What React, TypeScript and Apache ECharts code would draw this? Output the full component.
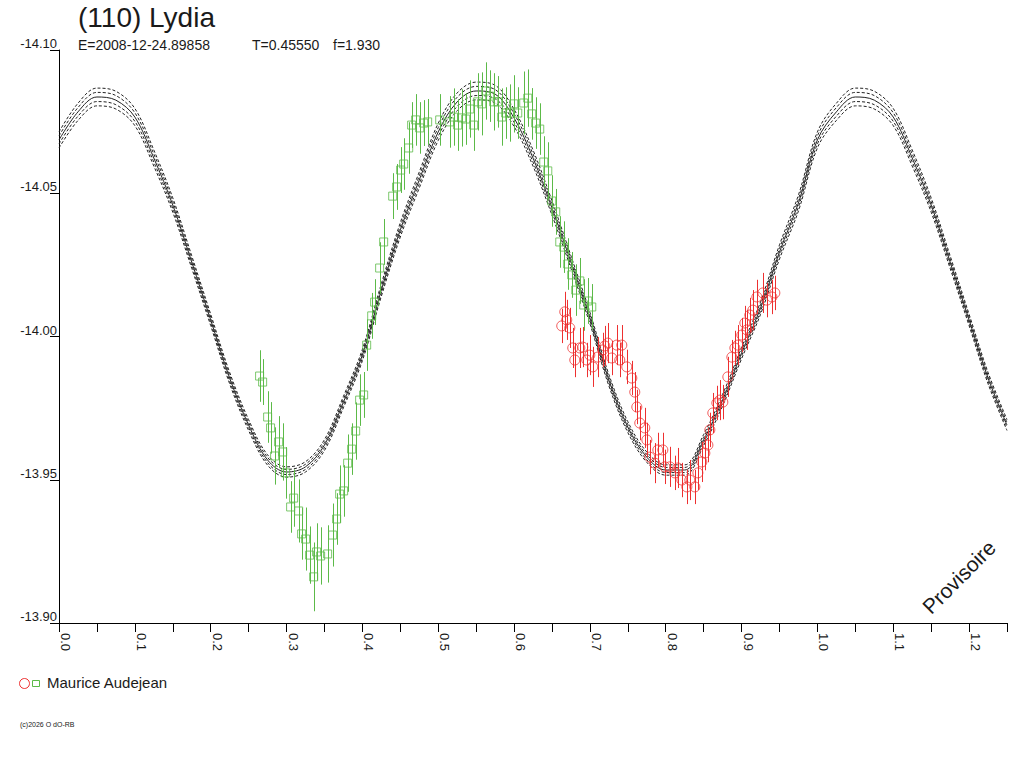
import React, { useEffect, useRef } from "react";
import * as echarts from "echarts";

// ---------- data ----------
const title = "(110) Lydia";
const subtitleParts = ["E=2008-12-24.89858", "T=0.45550", "f=1.930"];
const observer = "Maurice Audejean";
const copyright = "(c)2026 O dO-RB";
const watermark = "Provisoire";

const xTickLabels = ["0.0", "0.1", "0.2", "0.3", "0.4", "0.5", "0.6", "0.7", "0.8", "0.9", "1.0", "1.1", "1.2"];
const yTickLabels = ["-14.10", "-14.05", "-14.00", "-13.95", "-13.90"];

// model light curve (phase 0..1, step 0.025)
const modelPhase = [
  0, 0.025, 0.05, 0.075, 0.1, 0.125, 0.15, 0.175, 0.2, 0.225, 0.25, 0.275, 0.3, 0.325, 0.35, 0.375, 0.4,
  0.425, 0.45, 0.475, 0.5, 0.525, 0.55, 0.575, 0.6, 0.625, 0.65, 0.675, 0.7, 0.725, 0.75, 0.775, 0.8,
  0.825, 0.85, 0.875, 0.9, 0.925, 0.95, 0.975, 1.0,
];
const modelMag = [
  -14.0686, -14.0784, -14.0836, -14.0825, -14.0766, -14.0623, -14.0459, -14.026, -14.0058, -13.9855,
  -13.9691, -13.9569, -13.9527, -13.9545, -13.9621, -13.9771, -13.9935, -14.0162, -14.0372, -14.0546,
  -14.0714, -14.0819, -14.0857, -14.0846, -14.0763, -14.0623, -14.0449, -14.026, -14.0065, -13.9848,
  -13.9684, -13.9579, -13.9534, -13.9534, -13.9639, -13.9778, -13.9942, -14.0099, -14.0295, -14.0466,
  -14.0686,
];
const modelDevInner = [
  0.0014, 0.0015, 0.0016, 0.0016, 0.0015, 0.0014, 0.0012, 0.0011, 0.001, 0.001, 0.0009, 0.0009, 0.0009,
  0.0009, 0.0009, 0.001, 0.001, 0.0011, 0.0012, 0.0014, 0.0015, 0.0016, 0.0016, 0.0016, 0.0015, 0.0014,
  0.0012, 0.0011, 0.001, 0.001, 0.0009, 0.0009, 0.0009, 0.0009, 0.0009, 0.001, 0.001, 0.0011, 0.0012,
  0.0014, 0.0014,
];
const modelDevOuter = [
  0.0028, 0.003, 0.0031, 0.0031, 0.003, 0.0028, 0.0025, 0.0022, 0.002, 0.002, 0.0019, 0.0018, 0.0018,
  0.0018, 0.0019, 0.002, 0.002, 0.0022, 0.0025, 0.0028, 0.003, 0.0031, 0.0031, 0.0031, 0.003, 0.0028,
  0.0025, 0.0022, 0.002, 0.002, 0.0019, 0.0018, 0.0018, 0.0018, 0.0019, 0.002, 0.002, 0.0022, 0.0025,
  0.0028, 0.0028,
];

// observations (green squares)
const greenPhase = [
  0.2645, 0.2685, 0.2751, 0.279, 0.2843, 0.2896, 0.2949, 0.2988, 0.3054, 0.3094, 0.316, 0.3199, 0.3252,
  0.3305, 0.3358, 0.3397, 0.345, 0.3542, 0.3608, 0.3661, 0.3701, 0.3753, 0.3806, 0.3859, 0.3912, 0.3964,
  0.4017, 0.4057, 0.4123, 0.4162, 0.4228, 0.4281, 0.44, 0.4452, 0.4505, 0.4545, 0.4611, 0.465, 0.4703,
  0.4756, 0.4809, 0.4861, 0.502, 0.5152, 0.5204, 0.5257, 0.531, 0.5363, 0.5416, 0.5468, 0.5521, 0.5574,
  0.5627, 0.5679, 0.5732, 0.5785, 0.5838, 0.589, 0.5943, 0.5996, 0.6049, 0.6128, 0.6181, 0.6233, 0.6286,
  0.6339, 0.6392, 0.6445, 0.6497, 0.655, 0.6603, 0.6656, 0.6708, 0.6761, 0.6814, 0.6867, 0.6919, 0.6972,
  0.7025,
];
const greenMag = [
  -13.9862, -13.9841, -13.9719, -13.9681, -13.9583, -13.9632, -13.9597, -13.9524, -13.9405, -13.9436,
  -13.9391, -13.9311, -13.9293, -13.9237, -13.9161, -13.9248, -13.9234, -13.9241, -13.9307, -13.9363,
  -13.945, -13.9461, -13.9558, -13.9607, -13.967, -13.9778, -13.9796, -13.997, -14.0072, -14.012, -14.0239,
  -14.033, -14.049, -14.0522, -14.0581, -14.0602, -14.0658, -14.0738, -14.0756, -14.0728, -14.0745,
  -14.0749, -14.0756, -14.0749, -14.0766, -14.0738, -14.0763, -14.0759, -14.0794, -14.0738, -14.0819,
  -14.0812, -14.0857, -14.0839, -14.0819, -14.0819, -14.0766, -14.078, -14.078, -14.0812, -14.078, -14.0815,
  -14.0832, -14.0777, -14.0745, -14.0724, -14.0609, -14.0578, -14.0473, -14.0435, -14.033, -14.0312,
  -14.0253, -14.0215, -14.0162, -14.0194, -14.011, -14.0124, -14.0103,
];
const greenErr = [
  0.009, 0.008, 0.009, 0.009, 0.01, 0.009, 0.01, 0.009, 0.009, 0.01, 0.011, 0.009, 0.011, 0.01, 0.012, 0.01,
  0.01, 0.01, 0.011, 0.009, 0.01, 0.009, 0.01, 0.009, 0.01, 0.009, 0.008, 0.009, 0.008, 0.008, 0.009, 0.008,
  0.008, 0.008, 0.008, 0.009, 0.009, 0.008, 0.009, 0.009, 0.008, 0.008, 0.009, 0.009, 0.01, 0.009, 0.01,
  0.009, 0.01, 0.009, 0.01, 0.011, 0.01, 0.009, 0.01, 0.009, 0.01, 0.009, 0.01, 0.01, 0.009, 0.011, 0.01,
  0.009, 0.009, 0.009, 0.009, 0.01, 0.009, 0.008, 0.009, 0.009, 0.009, 0.008, 0.009, 0.008, 0.009, 0.008,
  0.008,
];

// observations (red circles)
const redPhase = [
  0.6669, 0.6695, 0.6629, 0.6735, 0.6774, 0.6801, 0.6867, 0.6906, 0.6959, 0.6999, 0.7038, 0.7104, 0.717,
  0.7197, 0.7236, 0.7289, 0.7355, 0.7394, 0.7421, 0.7487, 0.7553, 0.7592, 0.7619, 0.7658, 0.7724, 0.7751,
  0.779, 0.7856, 0.7896, 0.7962, 0.7988, 0.8054, 0.812, 0.816, 0.8213, 0.8279, 0.8318, 0.8384, 0.8424,
  0.8476, 0.8516, 0.8556, 0.8582, 0.8621, 0.8674, 0.8714, 0.8753, 0.8819, 0.8872, 0.8912, 0.8951, 0.9004,
  0.9043, 0.907, 0.9109, 0.9149, 0.9202, 0.9281, 0.9334, 0.94, 0.9439,
];
const redMag = [
  -14.0086, -14.0058, -14.0037, -14.003, -13.996, -13.9918, -13.996, -13.9963, -13.9918, -13.9935, -13.9894,
  -13.9928, -13.9953, -13.9967, -13.9977, -13.9925, -13.997, -13.9918, -13.997, -13.9894, -13.9855,
  -13.9806, -13.9754, -13.9698, -13.9681, -13.9639, -13.9579, -13.9558, -13.9604, -13.9604, -13.9545,
  -13.9545, -13.9524, -13.9541, -13.9499, -13.9475, -13.9499, -13.9475, -13.9524, -13.9562, -13.9593,
  -13.9621, -13.9674, -13.9733, -13.9768, -13.9778, -13.9771, -13.9859, -13.9928, -13.996, -13.997,
  -14.0005, -14.0047, -14.0023, -14.0075, -14.0092, -14.0138, -14.0152, -14.0127, -14.0138, -14.0152,
];
const redErr = [
  0.007, 0.007, 0.006, 0.007, 0.007, 0.006, 0.007, 0.007, 0.006, 0.007, 0.007, 0.007, 0.006, 0.007, 0.007,
  0.006, 0.007, 0.006, 0.007, 0.006, 0.006, 0.007, 0.006, 0.006, 0.007, 0.006, 0.006, 0.007, 0.006, 0.006,
  0.006, 0.007, 0.006, 0.007, 0.006, 0.006, 0.007, 0.006, 0.006, 0.007, 0.006, 0.006, 0.006, 0.007, 0.006,
  0.007, 0.006, 0.007, 0.006, 0.006, 0.007, 0.006, 0.006, 0.007, 0.006, 0.007, 0.006, 0.007, 0.006, 0.006,
  0.006,
];

// ---------- styling ----------
const FONT = "'Liberation Sans', Arial, Helvetica, sans-serif";
const GREEN = "#5cba48";
const RED = "#ee3030";
const CURVE = "#222222";
const TEXT = "#1a1a1a";

function buildCurve(devSign: number, dev: number[] | null) {
  const pts: number[][] = modelPhase.map((p, i) => [p, modelMag[i] + (dev ? devSign * dev[i] : 0)]);
  // the light curve repeats with a period of 1 in phase; continue it to 1.25
  for (let i = 1; i <= 10; i++) {
    pts.push([modelPhase[i] + 1, modelMag[i] + (dev ? devSign * dev[i] : 0)]);
  }
  return pts;
}

function errorBarSeries(phase: number[], mag: number[], err: number[], color: string) {
  return {
    type: "custom",
    silent: true,
    z: 3,
    encode: { x: 0, y: [1, 2] },
    data: phase.map((p, i) => [p, mag[i] - err[i], mag[i] + err[i]]),
    renderItem: (params: any, api: any) => {
      const a = api.coord([api.value(0), api.value(1)]);
      const b = api.coord([api.value(0), api.value(2)]);
      const x = Math.round(a[0]) + 0.5;
      return {
        type: "line",
        shape: { x1: x, y1: a[1], x2: x, y2: b[1] },
        style: { stroke: color, lineWidth: 1 },
      };
    },
  };
}

function curveSeries(data: number[][], dashed: boolean) {
  return {
    type: "line",
    data,
    showSymbol: false,
    smooth: 0.35,
    silent: true,
    z: 2,
    lineStyle: { color: CURVE, width: 1, type: dashed ? [3, 2] : "solid" },
  };
}

export default function App() {
  const ref = useRef<HTMLDivElement>(null);

  useEffect(() => {
    if (!ref.current) return;
    const chart = echarts.init(ref.current, null, { renderer: "svg" });

    const option: any = {
      animation: false,
      backgroundColor: "#ffffff",
      textStyle: { fontFamily: FONT },
      grid: { left: 59, right: 17, top: 50, bottom: 145, containLabel: false },
      xAxis: {
        type: "value",
        min: 0,
        max: 1.25,
        interval: 0.05,
        axisLine: { show: true, lineStyle: { color: "#000", width: 1 } },
        axisTick: { show: true, length: 9, lineStyle: { color: "#000" } },
        splitLine: { show: false },
        axisLabel: {
          rotate: -90,
          margin: 10,
          fontSize: 13,
          color: TEXT,
          fontFamily: FONT,
          verticalAlign: "bottom",
          formatter: (v: number) => {
            const k = Math.round(v * 10);
            if (Math.abs(v * 10 - k) > 1e-6) return "";
            return xTickLabels[k] ?? "";
          },
        },
      },
      yAxis: {
        type: "value",
        inverse: true,
        min: -14.1,
        max: -13.9,
        interval: 0.05,
        axisLine: { show: true, lineStyle: { color: "#000", width: 1 } },
        axisTick: { show: true, length: 9, lineStyle: { color: "#000" } },
        splitLine: { show: false },
        axisLabel: {
          margin: 2,
          fontSize: 13,
          color: TEXT,
          fontFamily: FONT,
          verticalAlign: "bottom",
          formatter: (v: number) => {
            const k = Math.round((v + 14.1) / 0.05);
            return yTickLabels[k] ?? "";
          },
        },
      },
      series: [
        curveSeries(buildCurve(-1, modelDevOuter), true),
        curveSeries(buildCurve(-1, modelDevInner), true),
        curveSeries(buildCurve(0, null), false),
        curveSeries(buildCurve(1, modelDevInner), true),
        curveSeries(buildCurve(1, modelDevOuter), true),
        errorBarSeries(greenPhase, greenMag, greenErr, GREEN),
        errorBarSeries(redPhase, redMag, redErr, RED),
        {
          type: "scatter",
          z: 4,
          symbol: "rect",
          symbolSize: 8,
          silent: true,
          data: greenPhase.map((p, i) => [p, greenMag[i]]),
          itemStyle: { color: "rgba(0,0,0,0)", borderColor: GREEN, borderWidth: 1 },
        },
        {
          type: "scatter",
          z: 4,
          symbol: "circle",
          symbolSize: 10,
          silent: true,
          data: redPhase.map((p, i) => [p, redMag[i]]),
          itemStyle: { color: "rgba(0,0,0,0)", borderColor: RED, borderWidth: 1 },
        },
      ],
      graphic: [
        {
          type: "text",
          left: 78,
          top: 3,
          style: { text: title, font: `28px ${FONT}`, fill: TEXT },
        },
        {
          type: "text",
          left: 78,
          top: 38,
          style: { text: subtitleParts[0], font: `14px ${FONT}`, fill: TEXT },
        },
        {
          type: "text",
          left: 252,
          top: 38,
          style: { text: subtitleParts[1], font: `14px ${FONT}`, fill: TEXT },
        },
        {
          type: "text",
          left: 333,
          top: 38,
          style: { text: subtitleParts[2], font: `14px ${FONT}`, fill: TEXT },
        },
        {
          type: "text",
          x: 959,
          y: 577,
          rotation: Math.PI / 4,
          style: {
            text: watermark,
            font: `21px ${FONT}`,
            fill: TEXT,
            textAlign: "center",
            textVerticalAlign: "middle",
          },
        },
        {
          type: "circle",
          shape: { cx: 24.5, cy: 683.5, r: 5 },
          style: { fill: "none", stroke: RED, lineWidth: 1 },
        },
        {
          type: "rect",
          shape: { x: 32.5, y: 680.5, width: 7, height: 6 },
          style: { fill: "none", stroke: GREEN, lineWidth: 1 },
        },
        {
          type: "text",
          left: 47,
          top: 675,
          style: { text: observer, font: `15px ${FONT}`, fill: TEXT },
        },
        {
          type: "text",
          left: 20,
          top: 721,
          style: { text: copyright, font: `7px ${FONT}`, fill: TEXT },
        },
      ],
    };

    chart.setOption(option);
    return () => chart.dispose();
  }, []);

  return (
    <div
      ref={ref}
      style={{ position: "fixed", left: 0, top: 0, width: 1024, height: 768, background: "#fff" }}
    />
  );
}
